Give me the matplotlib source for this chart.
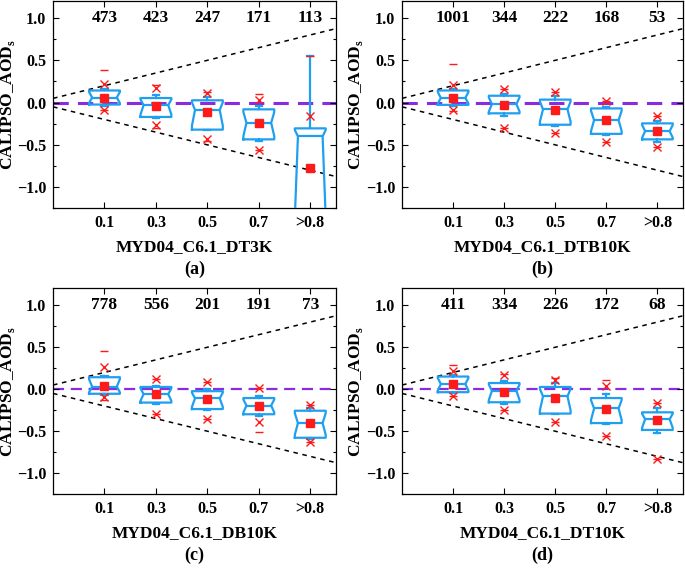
import matplotlib
matplotlib.use("Agg")
import matplotlib.pyplot as plt

plt.rcParams['font.family'] = ['Liberation Serif', 'DejaVu Serif']
plt.rcParams['font.weight'] = 'bold'
plt.rcParams['mathtext.fontset'] = 'custom'
plt.rcParams['mathtext.rm'] = 'Liberation Serif:bold'
plt.rcParams['mathtext.bf'] = 'Liberation Serif:bold'

# ---- data ----
bins = ['0.1', '0.3', '0.5', '0.7', '>0.8']
products = ['MYD04_C6.1_DT3K', 'MYD04_C6.1_DTB10K', 'MYD04_C6.1_DB10K', 'MYD04_C6.1_DT10K']
panel_tags = ['(a)', '(b)', '(c)', '(d)']

counts_a = [473, 423, 247, 171, 113]
mean_a = [0.06, -0.04, -0.115, -0.24, -0.77]
med_a = [0.06, -0.03, -0.088, -0.24, -0.40]
q1_a = [-0.023, -0.17, -0.32, -0.435, -1.6]
q3_a = [0.143, 0.054, 0.027, -0.08, -0.305]
wlo_a = [-0.04, -0.18, -0.32, -0.45, -2.0]
whi_a = [0.16, 0.09, 0.066, -0.04, 0.55]
p1_a = [-0.09, -0.27, -0.43, -0.56, -2.2]
p99_a = [0.22, 0.17, 0.108, 0.03, -0.158]
min_a = [-0.09, -0.30, -0.455, -0.56, -2.4]
max_a = [0.39, 0.21, 0.12, 0.10, 0.55]

counts_b = [1001, 344, 222, 168, 53]
mean_b = [0.058, -0.027, -0.092, -0.21, -0.34]
med_b = [0.054, -0.019, -0.08, -0.208, -0.339]
q1_b = [-0.027, -0.127, -0.262, -0.37, -0.435]
q3_b = [0.143, 0.081, 0.035, -0.069, -0.246]
wlo_b = [-0.042, -0.158, -0.274, -0.38, -0.466]
whi_b = [0.155, 0.10, 0.074, -0.053, -0.223]
p1_b = [-0.088, -0.297, -0.362, -0.466, -0.524]
p99_b = [0.213, 0.159, 0.12, 0.016, -0.162]
min_b = [-0.105, -0.297, -0.362, -0.466, -0.524]
max_b = [0.456, 0.159, 0.12, 0.016, -0.162]

counts_c = [778, 556, 201, 191, 73]
mean_c = [0.043, -0.058, -0.12, -0.194, -0.40]
med_c = [0.031, -0.058, -0.109, -0.194, -0.403]
q1_c = [-0.054, -0.159, -0.236, -0.298, -0.578]
q3_c = [0.143, 0.027, -0.023, -0.105, -0.256]
wlo_c = [-0.07, -0.174, -0.25, -0.318, -0.59]
whi_c = [0.158, 0.04, 0.004, -0.078, -0.229]
p1_c = [-0.097, -0.294, -0.353, -0.39, -0.632]
p99_c = [0.26, 0.124, 0.09, 0.012, -0.19]
min_c = [-0.124, -0.294, -0.353, -0.508, -0.632]
max_c = [0.46, 0.124, 0.09, 0.02, -0.19]

counts_d = [411, 334, 226, 172, 68]
mean_d = [0.066, -0.031, -0.109, -0.24, -0.369]
med_d = [0.062, -0.019, -0.085, -0.229, -0.357]
q1_d = [-0.035, -0.155, -0.29, -0.403, -0.485]
q3_d = [0.151, 0.074, 0.027, -0.105, -0.275]
wlo_d = [-0.05, -0.17, -0.30, -0.42, -0.523]
whi_d = [0.167, 0.101, 0.07, -0.058, -0.221]
p1_d = [-0.081, -0.248, -0.395, -0.554, -0.83]
p99_d = [0.221, 0.167, 0.105, 0.035, -0.167]
min_d = [-0.081, -0.248, -0.395, -0.554, -0.83]
max_d = [0.29, 0.185, 0.128, 0.112, -0.167]

panels = [
    (counts_a, mean_a, med_a, q1_a, q3_a, wlo_a, whi_a, p1_a, p99_a, min_a, max_a),
    (counts_b, mean_b, med_b, q1_b, q3_b, wlo_b, whi_b, p1_b, p99_b, min_b, max_b),
    (counts_c, mean_c, med_c, q1_c, q3_c, wlo_c, whi_c, p1_c, p99_c, min_c, max_c),
    (counts_d, mean_d, med_d, q1_d, q3_d, wlo_d, whi_d, p1_d, p99_d, min_d, max_d),
]

# ---- style ----
BLUE = '#1F9FEF'
RED = '#FF1A1A'
PURPLE = '#8A2BE2'
W = 0.6
NOTCH = 0.8      # how far the notch reaches toward the quartiles
NOTCH_W = 0.4    # half width of the box at the median, as fraction of width

fig = plt.figure(figsize=(6.85, 5.69), dpi=100)
rects = [
    [0.0774, 0.634, 0.4131, 0.364],
    [0.5869, 0.634, 0.4101, 0.364],
    [0.0774, 0.1315, 0.4131, 0.3615],
    [0.5869, 0.1315, 0.4101, 0.3615],
]
zero_lw = [2.2, 2.2, 1.6, 1.6]
ylab_x = [-0.128, -0.133, -0.128, -0.133]

pos = [1, 2, 3, 4, 5]
for k, (cnt, mn, md, q1, q3, wlo, whi, p1, p99, vmin, vmax) in enumerate(panels):
    ax = fig.add_axes(rects[k])

    # expected-error envelope and zero line
    ax.plot([0, 5.5], [0.05, 0.05 + 0.15 * 5.5], ls=(0, (3, 3)), color='black', lw=1.1, zorder=1)
    ax.plot([0, 5.5], [-0.05, -0.05 - 0.15 * 5.5], ls=(0, (3, 3)), color='black', lw=1.1, zorder=1)
    ax.axhline(0, color=PURPLE, ls=(0, (5, 3)), lw=zero_lw[k], zorder=1)

    stats = []
    for i in range(5):
        stats.append(dict(med=md[i], q1=q1[i], q3=q3[i], whislo=wlo[i], whishi=whi[i],
                          mean=mn[i], fliers=[],
                          cilo=md[i] - NOTCH * (md[i] - q1[i]),
                          cihi=md[i] + NOTCH * (q3[i] - md[i])))
    res = ax.bxp(stats, positions=pos, widths=W, shownotches=True, showmeans=True,
                 showfliers=False, capwidths=0.12,
                 boxprops=dict(color=BLUE, lw=1.6),
                 whiskerprops=dict(color=BLUE, lw=1.6),
                 capprops=dict(color=BLUE, lw=1.6),
                 medianprops=dict(color=BLUE, lw=1.6),
                 meanprops=dict(marker='s', markerfacecolor=RED, markeredgecolor=RED,
                                markersize=5.5), zorder=3)
    # widen the notch a bit, like the original software does
    for p, box, medl in zip(pos, res['boxes'], res['medians']):
        xs = list(box.get_xdata())
        xs[3] = p + W * NOTCH_W
        xs[8] = p - W * NOTCH_W
        box.set_xdata(xs)
        medl.set_xdata([p - W * NOTCH_W, p + W * NOTCH_W])

    ax.plot(pos, p1, 'x', color=RED, ms=6, mew=1.0, zorder=4)
    ax.plot(pos, p99, 'x', color=RED, ms=6, mew=1.0, zorder=4)
    ax.plot(pos, vmin, '_', color=RED, ms=6, mew=1.0, zorder=4)
    ax.plot(pos, vmax, '_', color=RED, ms=6, mew=1.0, zorder=4)

    for p, c in zip(pos, cnt):
        ax.text(p, 1.0, str(c), ha='center', va='center', fontsize=12.5, fontweight='bold')

    ax.set_xlim(0, 5.5)
    ax.set_ylim(-1.2, 1.2)
    ax.set_xticks(pos)
    ax.set_xticklabels(bins)
    ax.set_yticks([-1.0, -0.5, 0.0, 0.5, 1.0])
    ax.set_yticks([-1.25, -0.75, -0.25, 0.25, 0.75], minor=True)
    ax.tick_params(direction='in', top=True, right=True, labelsize=11.5, length=4, width=0.8, pad=5)
    ax.tick_params(which='minor', direction='in', right=True, length=2.5, width=0.8)
    for lab in ax.get_xticklabels() + ax.get_yticklabels():
        lab.set_fontweight('bold')
    for s in ax.spines.values():
        s.set_linewidth(0.9)

    ax.set_xlabel(products[k], fontsize=12.5, fontweight='bold', labelpad=6)
    ax.set_ylabel(r'CALIPSO_AOD$_{\mathbf{s}}$', fontsize=12.5, fontweight='bold')
    ax.yaxis.set_label_coords(ylab_x[k], 0.5)
    ax.annotate(panel_tags[k], xy=(0.5, 0), xycoords='axes fraction', xytext=(0, -61),
                textcoords='offset pixels', ha='center', va='center',
                fontsize=13, fontweight='bold')

fig.savefig('out.png', dpi=100)
